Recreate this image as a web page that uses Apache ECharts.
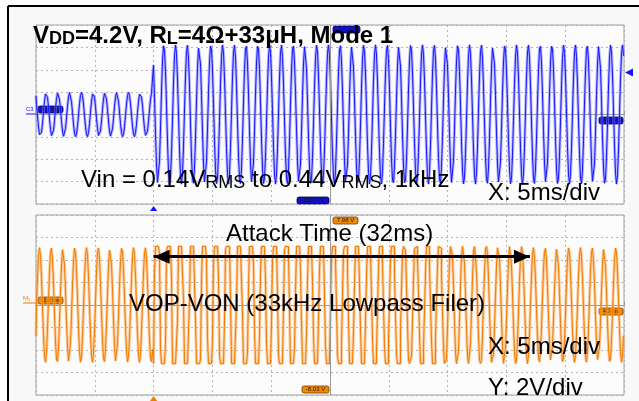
<!DOCTYPE html>
<html>
<head>
<meta charset="utf-8">
<script src="https://cdn.jsdelivr.net/npm/echarts@6/dist/echarts.min.js"></script>
<style>
  html, body { margin: 0; padding: 0; background: #ffffff; }
  #scope { width: 639px; height: 401px; }
</style>
</head>
<body>
<div id="scope"></div>
<script>
// Time base: 5 ms/div over 10 divisions, tone level steps up at 0 ms
const timeTicks = [-10, -5, 0, 5, 10, 15, 20, 25, 30, 35, 40];
const stepTime = 0;              // ms
const toneKHz = 1;               // test tone

// Input (C3, 200 mV/div)
const inTicks = [-800, -600, -400, -200, 0, 200, 400, 600, 800];   // mV
const vinRms = [0.14, 0.44];     // V rms before / after the step
const vinCrestAt = -0.09;        // ms, phase of the input crest

// Output VOP-VON (M1, 2 V/div)
const outTicks = [-8, -6, -4, -2, 0, 2, 4, 6, 8];                  // V
const voutPeakBefore = 5.1;      // V peak before the step
const voutClip = 5.2;            // V, clipping level of the output stage
const voutCrestAt = 0.34;        // ms, phase of the output crest
// Drive level (V peak before clipping) for each 1 ms cycle after the step,
// falling as the AGC attack pulls the gain back down
const voutDrive = [16.0, 15.3, 14.6, 13.9, 13.3, 12.7, 12.1, 11.6, 11.1, 10.6,
                   10.2, 9.8, 9.4, 9.0, 8.7, 8.4, 8.1, 7.8, 7.5, 7.2,
                   7.0, 6.8, 6.6, 6.4, 6.2, 6.0, 5.85, 5.7, 5.55, 5.4,
                   5.3, 5.2, 5.1, 5.1, 5.1, 5.1, 5.1, 5.1, 5.1, 5.1];
const attackMs = 32;
const sampleMs = 0.085;          // acquisition step, one screen column

// Build both traces from the readings above
const tMin = timeTicks[0], tMax = timeTicks[timeTicks.length - 1];
const vinTrace = [], voutTrace = [];
const nSamples = Math.round((tMax - tMin) / sampleMs);
for (let i = 0; i <= nSamples; i++) {
  const t = tMin + (tMax - tMin) * i / nSamples;
  const after = t >= stepTime;
  const inPk = vinRms[after ? 1 : 0] * Math.SQRT2 * 1000;
  vinTrace.push([t, inPk * Math.cos(2 * Math.PI * toneKHz * (t - vinCrestAt))]);
  const c = Math.cos(2 * Math.PI * toneKHz * (t - voutCrestAt));
  let v;
  if (!after) {
    v = voutPeakBefore * c;
  } else {
    const k = Math.min(voutDrive.length - 1, Math.floor((t - stepTime) * toneKHz));
    v = Math.max(-voutClip, Math.min(voutClip, voutDrive[k] * c));
  }
  voutTrace.push([t, v]);
}

const FONT = '"Liberation Sans", Arial, sans-serif';
const gridLine = { show: true, lineStyle: { color: '#b4b4b4', type: [2, 3], width: 1 } };

function timeAxis(gridIndex) {
  return {
    type: 'value', gridIndex, min: tMin, max: tMax, interval: timeTicks[1] - timeTicks[0],
    axisLabel: { show: false },
    axisLine: { show: true, onZero: true, lineStyle: { color: '#9a9a9a', width: 1 } },
    axisTick: { show: true, inside: true, length: 3, lineStyle: { color: '#9a9a9a' } },
    minorTick: { show: true, splitNumber: 5, length: 2, lineStyle: { color: '#9a9a9a' } },
    splitLine: gridLine
  };
}
function levelAxis(gridIndex, ticks) {
  return {
    type: 'value', gridIndex, min: ticks[0], max: ticks[ticks.length - 1], interval: ticks[1] - ticks[0],
    axisLabel: { show: false }, axisLine: { show: false }, axisTick: { show: false },
    splitLine: gridLine
  };
}
const centreLine = {
  silent: true, symbol: 'none', label: { show: false },
  lineStyle: { color: '#9a9a9a', type: 'solid', width: 1 },
  data: [{ xAxis: (tMin + tMax) / 2 }]
};

function tag(x, y, w, text, fill, stroke) {
  return {
    type: 'group', x, y, z: 50,
    children: [
      { type: 'rect', shape: { x: 0, y: 0, width: w, height: 7, r: 2 }, style: { fill, stroke, lineWidth: 0.8 } },
      { type: 'text', x: w / 2, y: 3.8, style: { text, fill: '#1a1a1a', font: '6px ' + FONT, align: 'center', verticalAlign: 'middle' } }
    ]
  };
}
function label(x, y, text, size, weight, rich) {
  return {
    type: 'text', x, y, z: 100,
    style: { text, fill: '#000', font: weight + ' ' + size + 'px ' + FONT, verticalAlign: 'top', rich }
  };
}
const sub = { s: { fontSize: 18, fontFamily: FONT, verticalAlign: 'bottom' } };
const subB = { s: { fontSize: 18, fontWeight: 'bold', fontFamily: FONT, verticalAlign: 'bottom' } };

const BLUE = '#1414ff', ORANGE = '#f07c00';

const option = {
  animation: false,
  backgroundColor: '#ffffff',
  grid: [
    { left: 36, top: 25, width: 588, height: 179, show: true, backgroundColor: '#fcfcfc', borderColor: '#a0a0a0', borderWidth: 1 },
    { left: 36, top: 215, width: 588, height: 180, show: true, backgroundColor: '#fcfcfc', borderColor: '#a0a0a0', borderWidth: 1 }
  ],
  xAxis: [timeAxis(0), timeAxis(1)],
  yAxis: [levelAxis(0, inTicks), levelAxis(1, outTicks)],
  series: [
    { type: 'line', xAxisIndex: 0, yAxisIndex: 0, data: vinTrace, showSymbol: false, step: 'middle',
      lineStyle: { color: 'rgba(120,120,255,0.55)', width: 3 }, markLine: centreLine, z: 2 },
    { type: 'line', xAxisIndex: 0, yAxisIndex: 0, data: vinTrace, showSymbol: false, step: 'middle',
      lineStyle: { color: BLUE, width: 1 }, z: 3 },
    { type: 'line', xAxisIndex: 1, yAxisIndex: 1, data: voutTrace, showSymbol: false, step: 'middle',
      lineStyle: { color: 'rgba(255,170,90,0.6)', width: 3 }, markLine: centreLine, z: 2 },
    { type: 'line', xAxisIndex: 1, yAxisIndex: 1, data: voutTrace, showSymbol: false, step: 'middle',
      lineStyle: { color: ORANGE, width: 1 }, z: 3,
      markLine: {
        silent: true, symbol: ['triangle', 'triangle'], symbolSize: [14, 16],
        symbolOffset: [[0, 8], [0, 8]], label: { show: false },
        lineStyle: { color: '#000', type: 'solid', width: 3 }, z: 20,
        data: [[{ coord: [stepTime, 4.3] }, { coord: [stepTime + attackMs, 4.3] }]]
      } }
  ],
  graphic: [
    // outer frame
    { type: 'rect', shape: { x: 9, y: 7, width: 640, height: 400 }, style: { fill: '#f8f8f8' }, z: -10 },
    { type: 'line', shape: { x1: 8, y1: 6, x2: 639, y2: 6 }, style: { stroke: '#000', lineWidth: 2 }, z: 90 },
    { type: 'line', shape: { x1: 8, y1: 6, x2: 8, y2: 401 }, style: { stroke: '#000', lineWidth: 2 }, z: 90 },
    // channel markers and readouts
    { type: 'text', x: 26, y: 106, z: 50, style: { text: 'C3', fill: BLUE, font: '6px ' + FONT } },
    { type: 'line', shape: { x1: 26, y1: 114, x2: 36, y2: 114 }, style: { stroke: BLUE, lineWidth: 1 }, z: 50 },
    { type: 'text', x: 23, y: 295, z: 50, style: { text: 'M\u2081', fill: ORANGE, font: '6px ' + FONT } },
    { type: 'line', shape: { x1: 23, y1: 303, x2: 36, y2: 303 }, style: { stroke: ORANGE, lineWidth: 1 }, z: 50 },
    tag(38, 106, 25, '-10 ms', '#1010c8', '#000050'),
    tag(333, 26, 27, '', '#1010c8', '#000050'),
    tag(599, 117, 24, '40 ms', '#1010c8', '#000050'),
    tag(297, 197, 32, '-800 mV', '#1010c8', '#000050'),
    tag(333, 217, 25, '7.98 V', '#f08a00', '#7a3c00'),
    tag(38, 297, 25, '-10 ms', '#f08a00', '#7a3c00'),
    tag(599, 308, 24, '40 ms', '#f08a00', '#7a3c00'),
    tag(302, 386, 27, '-8.03 V', '#f08a00', '#7a3c00'),
    { type: 'polygon', shape: { points: [[625, 72.5], [633, 68.5], [633, 76.5]] }, style: { fill: BLUE }, z: 50 },
    { type: 'polygon', shape: { points: [[153.6, 206], [150, 211], [157.2, 211]] }, style: { fill: BLUE }, z: 50 },
    { type: 'polygon', shape: { points: [[153.6, 396], [150, 401], [157.2, 401]] }, style: { fill: ORANGE }, z: 50 },
    // annotations
    label(33, 24, 'V{s|DD}=4.2V, R{s|L}=4\u03A9+33\u03BCH, Mode 1', 24, 'bold', subB),
    label(81, 168, 'Vin = 0.14V{s|RMS} to 0.44V{s|RMS}, 1kHz', 24, 'normal', sub),
    label(488, 181, 'X: 5ms/div', 24, 'normal'),
    label(226, 222, 'Attack Time (32ms)', 24, 'normal'),
    label(129, 292, 'VOP-VON (33kHz Lowpass Filer)', 24, 'normal'),
    label(488, 335, 'X: 5ms/div', 24, 'normal'),
    label(488, 376, 'Y: 2V/div', 24, 'normal')
  ]
};

echarts.init(document.getElementById('scope'), null, { renderer: 'canvas' }).setOption(option);
</script>
</body>
</html>
